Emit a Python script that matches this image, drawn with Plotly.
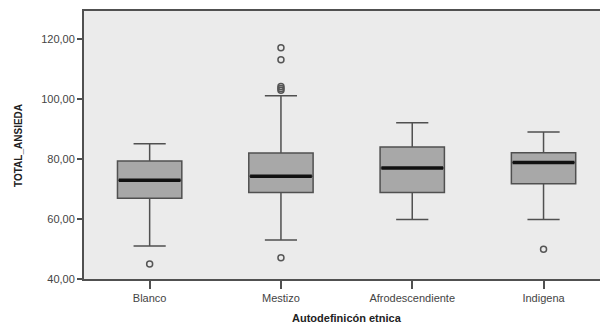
import plotly.graph_objects as go

categories = ["Blanco", "Mestizo", "Afrodescendiente", "Indigena"]
q1 = [67.0, 68.9, 68.9, 71.8]
median = [73.0, 74.3, 77.1, 78.9]
q3 = [79.4, 82.1, 84.1, 82.2]
lowerfence = [51.0, 53.0, 59.9, 59.9]
upperfence = [85.2, 101.2, 92.2, 89.1]
outlier_cat = [0, 1, 1, 1, 1, 1, 1, 3]
outlier_val = [45.0, 117.2, 113.2, 104.3, 103.6, 103.0, 47.1, 49.9]
y_ticks = [40, 60, 80, 100, 120]
y_ticklabels = ["40,00", "60,00", "80,00", "100,00", "120,00"]

box_w = 0.49
fig = go.Figure()
for i, c in enumerate(categories):
    fig.add_trace(go.Box(
        x=[i], q1=[q1[i]], median=[median[i]], q3=[q3[i]],
        lowerfence=[lowerfence[i]], upperfence=[upperfence[i]],
        width=box_w, whiskerwidth=0.5,
        fillcolor="#a8a8a8", line=dict(color="#505050", width=1.5),
        boxpoints=False, showlegend=False, hoverinfo="skip"))
    fig.add_trace(go.Scatter(
        x=[i - box_w / 2 + 0.01, i + box_w / 2 - 0.01], y=[median[i], median[i]],
        mode="lines", line=dict(color="#111111", width=3.5),
        showlegend=False, hoverinfo="skip"))

fig.add_trace(go.Scatter(
    x=outlier_cat, y=outlier_val, mode="markers",
    marker=dict(symbol="circle-open", size=6, color="#555555", line=dict(width=1.5)),
    showlegend=False, hoverinfo="skip"))

fig.add_annotation(x=1.5, xref="x", y=-0.146, yref="paper", yanchor="middle",
                   text="<b>Autodefinicón etnica</b>", showarrow=False,
                   font=dict(family="Liberation Sans, Arial", size=11, color="#222222"))
fig.add_annotation(x=-0.128, xref="paper", y=0.5, yref="paper", xanchor="center",
                   yanchor="middle", textangle=-90,
                   text="<b>TOTAL_ANSIEDA</b>", showarrow=False,
                   font=dict(family="Liberation Sans, Arial", size=10, color="#222222"))

fig.update_layout(
    width=600, height=327,
    margin=dict(l=84, r=0, t=11, b=48, autoexpand=False),
    paper_bgcolor="white", plot_bgcolor="#ebebeb",
    font=dict(family="Liberation Sans, Arial", size=11, color="#444444"),
    xaxis=dict(range=[-0.5, 3.43], tickvals=list(range(len(categories))),
               ticktext=categories, showgrid=False, zeroline=False,
               showline=True, linecolor="#505050", linewidth=2, mirror=True,
               ticks="outside", ticklen=8, tickcolor="#505050", tickwidth=1.5,
               automargin=False),
    yaxis=dict(range=[40, 129.5], tickvals=y_ticks, ticktext=y_ticklabels,
               showgrid=False, zeroline=False, showline=True, linecolor="#505050",
               linewidth=2, ticks="outside", ticklen=5, tickcolor="#505050",
               tickwidth=1.5, automargin=False),
)
fig.write_html("out.html", config={"displayModeBar": False},
               post_script="document.body.style.margin='0';")
